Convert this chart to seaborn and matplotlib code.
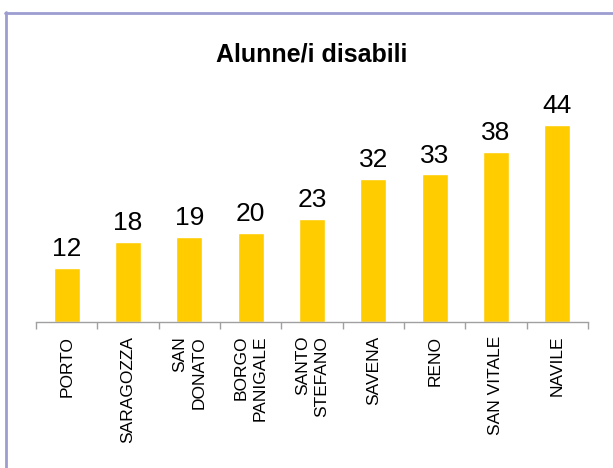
import numpy as np
import pandas as pd
import matplotlib
matplotlib.use('Agg')
import matplotlib.pyplot as plt
import seaborn as sns
from matplotlib.lines import Line2D

# data
quartieri = ['PORTO', 'SARAGOZZA', 'SAN\nDONATO', 'BORGO\nPANIGALE',
             'SANTO\nSTEFANO', 'SAVENA', 'RENO', 'SAN VITALE', 'NAVILE']
alunni = [12, 18, 19, 20, 23, 32, 33, 38, 44]

df = pd.DataFrame({'Quartiere': quartieri, 'Alunni': alunni})

sns.set_style('white')
plt.rcParams['font.family'] = ['Liberation Sans', 'DejaVu Sans']
plt.rcParams['text.color'] = 'black'
plt.rcParams['xtick.color'] = 'black'

fig = plt.figure(figsize=(6.13, 4.68), dpi=100)
ax = fig.add_axes([36 / 613, 146 / 468, 552 / 613, 223.5 / 468])

sns.barplot(data=df, x='Quartiere', y='Alunni', color='#FFCC00',
            saturation=1, width=0.42, ax=ax)

# value labels above the bars
ax.bar_label(ax.containers[0], fontsize=19, padding=5, color='black')

ax.set_xlim(-0.5, len(quartieri) - 0.5)
ax.set_ylim(0, 50)
ax.set_xlabel('')
ax.set_ylabel('')
ax.set_yticks([])

# category labels rotated, ticks between the categories
ax.set_xticks(range(len(quartieri)))
ax.set_xticklabels(quartieri, rotation=90, fontsize=12.5, color='black',
                   va='top', ha='center', multialignment='right',
                   linespacing=1.3)
ax.set_xticks(np.arange(-0.5, len(quartieri), 1), minor=True)
ax.tick_params(axis='x', which='major', length=0, pad=10)
ax.tick_params(axis='x', which='minor', length=5, width=1,
               color='#A0A0A0', bottom=True)

for side in ['top', 'right', 'left']:
    ax.spines[side].set_visible(False)
ax.spines['bottom'].set_color('#A0A0A0')
ax.spines['bottom'].set_linewidth(1)

# title
fig.text(311.5 / 613, 1 - 62 / 468, 'Alunne/i disabili', ha='center',
         va='baseline', fontsize=18, fontweight='bold', color='black')

# frame of the chart (only top and left sides are visible)
border = '#9D9DD0'
fig.add_artist(Line2D([5 / 613, 1], [1 - 13 / 468, 1 - 13 / 468],
                      transform=fig.transFigure, color=border, lw=2))
fig.add_artist(Line2D([6 / 613, 6 / 613], [1 - 12 / 468, 0],
                      transform=fig.transFigure, color=border, lw=2))

plt.savefig('out.png', dpi=100)
